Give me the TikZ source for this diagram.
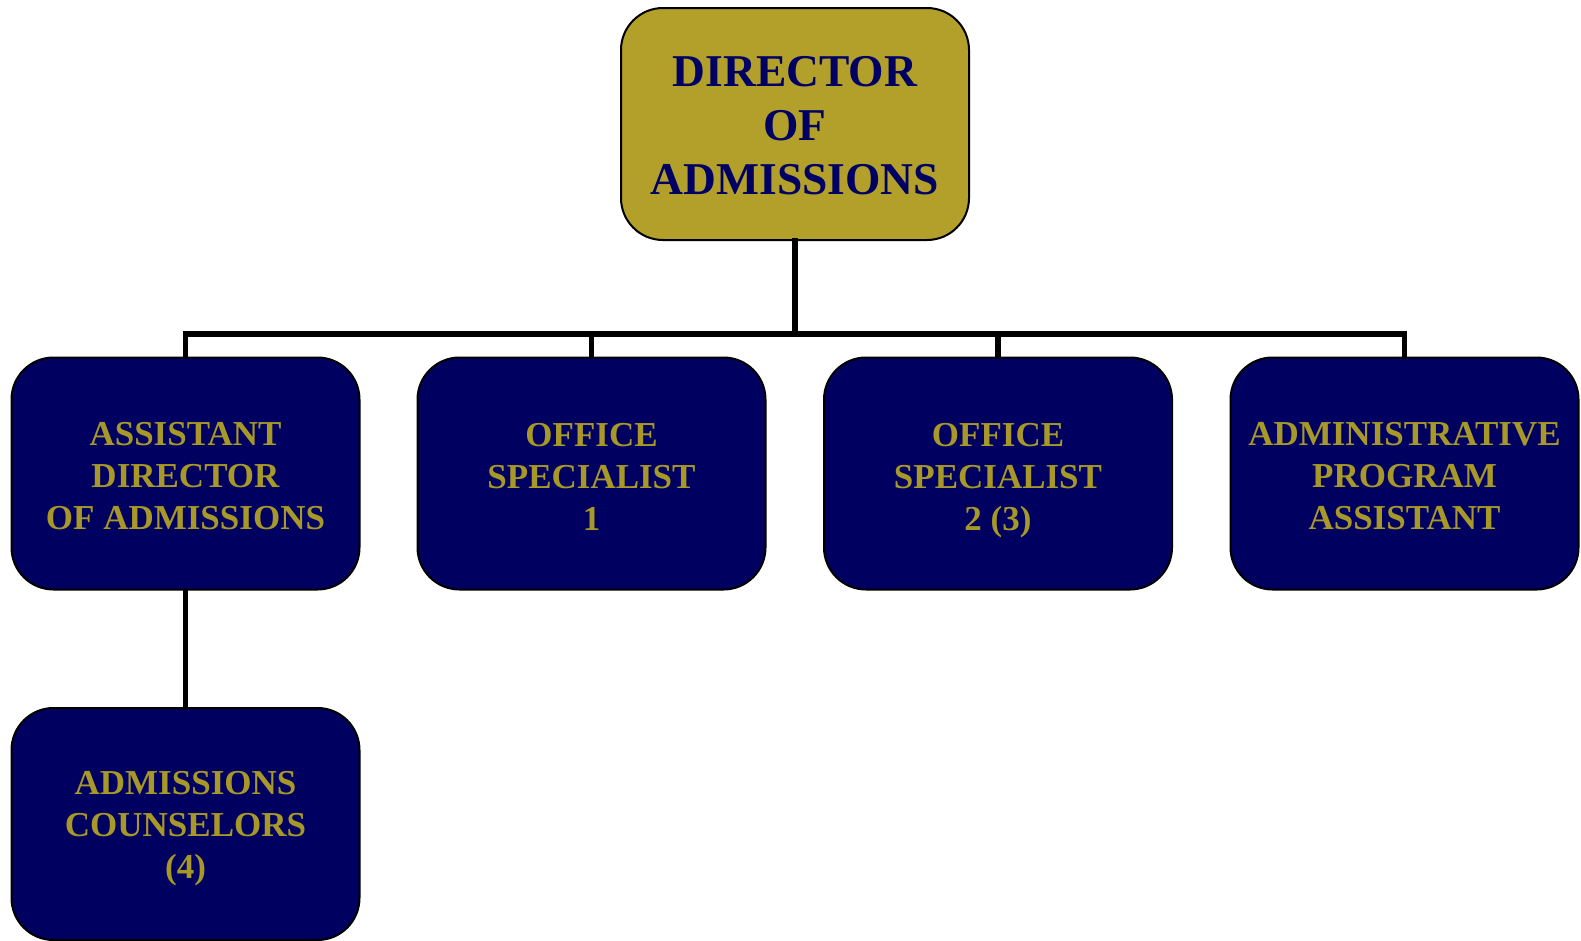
\documentclass[tikz,border=0pt]{standalone}
\usepackage{fontspec}
\setmainfont{Liberation Serif}
\definecolor{gold}{RGB}{179,160,42}
\definecolor{goldtext}{RGB}{168,152,40}
\definecolor{navy}{RGB}{0,0,96}
\definecolor{navytext}{RGB}{0,0,100}
\newcommand{\nodepth}[1]{\raisebox{0pt}[\height][0pt]{#1}}
\newcommand{\padtop}[2]{\raisebox{0pt}[\dimexpr\height+#1\relax]{#2}}
\begin{document}
\begin{tikzpicture}[x=1pt,y=-1pt,
  box/.style={draw=black,line width=2pt,rounded corners=42pt,minimum width=348pt,minimum height=232pt,inner sep=0pt,align=center},
  topbox/.style={box,fill=gold,text=navytext,font=\fontsize{45.5}{54}\selectfont\bfseries},
  bluebox/.style={box,fill=navy,text=goldtext,font=\fontsize{35}{42}\selectfont\bfseries},
  conn/.style={draw=black,line width=5.5pt,line cap=rect,line join=miter}]
\useasboundingbox (0,0) rectangle (1581,940);
\coordinate (bus) at (795,334);
\node[topbox] (top) at (795,124) {\padtop{4pt}{DIRECTOR}\\OF\\ADMISSIONS};
\node[bluebox] (a) at (185.5,473.5) {\padtop{6pt}{ASSISTANT}\\DIRECTOR\\OF ADMISSIONS};
\node[bluebox] (b) at (591.5,473.5) {\padtop{6pt}{OFFICE}\\SPECIALIST\\1};
\node[bluebox] (c) at (998,473.5) {\padtop{6pt}{OFFICE}\\SPECIALIST\\\nodepth{2 (3)}};
\node[bluebox] (d) at (1404.5,473.5) {\padtop{6pt}{ADMINISTRATIVE}\\PROGRAM\\ASSISTANT};
\node[bluebox] (e) at (185.5,824) {\padtop{2pt}{ADMISSIONS}\\COUNSELORS\\\nodepth{(4)}};
\draw[conn] (top.south) -- (top.south |- bus);
\draw[conn] (a.north) -- (a.north |- bus) -- (d.north |- bus) -- (d.north);
\draw[conn] (b.north) -- (b.north |- bus);
\draw[conn] (c.north) -- (c.north |- bus);
\draw[conn] (a.south) -- (e.north);
\end{tikzpicture}
\end{document}
